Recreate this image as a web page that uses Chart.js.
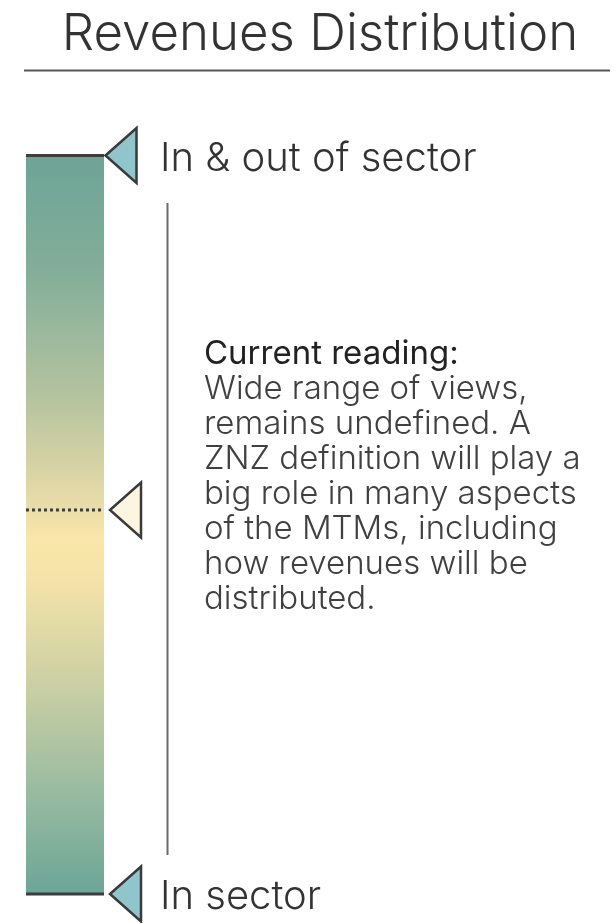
<!DOCTYPE html>
<html>
<head>
<meta charset="utf-8">
<script src="https://cdn.jsdelivr.net/npm/chart.js@4"></script>
<style>
  html, body { margin: 0; padding: 0; background: #ffffff; }
  canvas { display: block; }
</style>
</head>
<body>
<canvas id="c" width="615" height="923"></canvas>
<script>
// ---- data ----
const chartTitle = 'Revenues Distribution';
const categories = ['Revenues'];
const barRange = [0, 1];                 // floating bar: bottom (in sector) to top (in & out of sector)
const markerLabels = ['In & out of sector', '', 'In sector'];
const markerValues = [1, 0.52, 0];       // position on the 0..1 scale
const markerKinds = ['end', 'current', 'end'];
const noteHeading = 'Current reading:';
const noteLines = [
  'Wide range of views,',
  'remains undefined. A',
  'ZNZ definition will play a',
  'big role in many aspects',
  'of the MTMs, including',
  'how revenues will be',
  'distributed.'
];

const FONT = 'Inter, Roboto, "DejaVu Sans", sans-serif';

const overlay = {
  id: 'overlay',
  afterDatasetsDraw(chart) {
    const ctx = chart.ctx;
    const y = chart.scales.y;
    const bar = chart.getDatasetMeta(0).data[0];
    const left = bar.x - bar.width / 2;
    const right = bar.x + bar.width / 2;
    ctx.save();

    // title
    ctx.fillStyle = '#333333';
    ctx.font = '300 51px ' + FONT;
    ctx.textAlign = 'center';
    ctx.textBaseline = 'alphabetic';
    ctx.fillText(chartTitle, 320, 50);

    // rule under title
    ctx.strokeStyle = '#555555';
    ctx.lineWidth = 2;
    ctx.beginPath();
    ctx.moveTo(24, 70.5);
    ctx.lineTo(610, 70.5);
    ctx.stroke();

    // vertical guide line
    ctx.strokeStyle = '#6b6b6b';
    ctx.lineWidth = 2;
    ctx.beginPath();
    ctx.moveTo(167.5, 203);
    ctx.lineTo(167.5, 855);
    ctx.stroke();

    markerValues.forEach((v, i) => {
      const py = y.getPixelForValue(v);
      const isEnd = markerKinds[i] === 'end';
      // level line across the bar
      ctx.strokeStyle = '#3d3d3d';
      ctx.lineWidth = 3;
      ctx.setLineDash(isEnd ? [] : [3, 3]);
      ctx.beginPath();
      ctx.moveTo(left, py);
      ctx.lineTo(right, py);
      ctx.stroke();
      ctx.setLineDash([]);

      // triangle pointer
      const tipX = right + (i === 0 ? 1.5 : 6);
      const w = 31, h = 27.5;
      ctx.beginPath();
      ctx.moveTo(tipX, py);
      ctx.lineTo(tipX + w, py - h);
      ctx.lineTo(tipX + w, py + h);
      ctx.closePath();
      ctx.fillStyle = isEnd ? '#90c5cc' : '#fcf5e0';
      ctx.fill();
      ctx.lineWidth = 2.5;
      ctx.lineJoin = 'miter';
      ctx.strokeStyle = '#3a3a3a';
      ctx.stroke();

      // label
      if (markerLabels[i]) {
        ctx.fillStyle = '#333333';
        ctx.font = '300 40px ' + FONT;
        ctx.textAlign = 'left';
        ctx.textBaseline = 'alphabetic';
        ctx.fillText(markerLabels[i], 160, py + 15);
      }
    });

    // note text
    ctx.textAlign = 'left';
    ctx.textBaseline = 'alphabetic';
    ctx.fillStyle = '#222222';
    ctx.font = '400 33px ' + FONT;
    ctx.fillText(noteHeading, 204, 364);
    ctx.fillStyle = '#404040';
    ctx.font = '300 33px ' + FONT;
    noteLines.forEach((t, k) => ctx.fillText(t, 204, 364 + 35 * (k + 1)));

    ctx.restore();
  }
};

const ctx = document.getElementById('c').getContext('2d');
const chart = new Chart(ctx, {
  type: 'bar',
  data: {
    labels: categories,
    datasets: [{
      data: [barRange],
      backgroundColor(context) {
        const c = context.chart;
        const a = c.chartArea;
        if (!a) return '#c9cfa2';
        const g = c.ctx.createLinearGradient(0, a.top, 0, a.bottom);
        g.addColorStop(0.00, '#6da496');
        g.addColorStop(0.15, '#82ad9a');
        g.addColorStop(0.32, '#b2c29f');
        g.addColorStop(0.44, '#dcd6a6');
        g.addColorStop(0.52, '#fae6a9');
        g.addColorStop(0.58, '#f3e2a8');
        g.addColorStop(0.72, '#c9cfa4');
        g.addColorStop(0.88, '#93b8a0');
        g.addColorStop(1.00, '#6ca597');
        return g;
      },
      borderWidth: 0,
      borderSkipped: false,
      barPercentage: 1,
      categoryPercentage: 1
    }]
  },
  options: {
    responsive: false,
    animation: false,
    events: [],
    layout: { padding: { left: 26, right: 511, top: 155.5, bottom: 29 } },
    plugins: { legend: { display: false }, title: { display: false }, tooltip: { enabled: false } },
    scales: {
      x: { display: false, offset: true },
      y: { display: false, min: 0, max: 1 }
    }
  },
  plugins: [overlay]
});
</script>
</body>
</html>
